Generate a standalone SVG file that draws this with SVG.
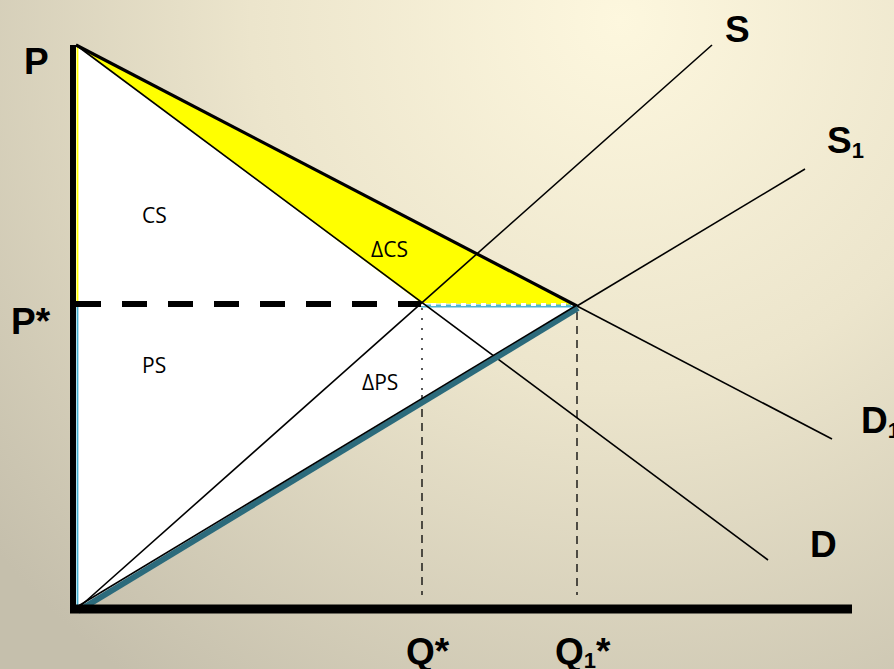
<svg xmlns="http://www.w3.org/2000/svg" width="894" height="669" viewBox="0 0 894 669">
<defs>
<radialGradient id="bg" cx="620" cy="20" r="820" gradientUnits="userSpaceOnUse">
<stop offset="0" stop-color="#fdf7de"/>
<stop offset="0.45" stop-color="#ece5cc"/>
<stop offset="1" stop-color="#c5bfac"/>
</radialGradient>
<style>
.lbl{font-family:"Liberation Sans",Arial,sans-serif;font-weight:bold;font-size:37px;fill:#000}
.sub{font-size:22px}
.area{font-family:"Open Sans","Liberation Sans",sans-serif;font-size:21px;fill:#000}
.curve{fill:none;stroke:#000;stroke-width:1.6}
.guide{fill:none;stroke:#000;stroke-width:1.3;stroke-dasharray:8 6}
</style>
</defs>
<rect width="894" height="669" fill="url(#bg)"/>
<g id="areas">
<polygon id="white-area" points="76,45 421,303 577,306 76,610" fill="#fff"/>
<polygon id="delta-cs-area" points="76,45 577,306 421,303" fill="#ffff00"/>
<line x1="77.5" y1="46" x2="77.5" y2="304" stroke="#ffff00" stroke-width="1.8"/>
<line x1="77.5" y1="306" x2="77.5" y2="608" stroke="#45b0cf" stroke-width="1.8"/>
</g>
<g id="connectors">
<line x1="421" y1="306" x2="577" y2="306" stroke="#4fb3d1" stroke-width="3"/>
<line x1="421" y1="304.5" x2="577" y2="304.5" stroke="#fff" stroke-width="3" stroke-dasharray="5 5"/>
<line x1="76" y1="304" x2="421" y2="304" stroke="#000" stroke-width="6" stroke-dasharray="25 21"/>
<line x1="422" y1="308" x2="422" y2="395" stroke="#000" stroke-width="1.3" stroke-dasharray="2 8"/>
<line x1="422" y1="395" x2="422" y2="595" class="guide"/>
<line x1="577" y1="312" x2="577" y2="595" class="guide"/>
<line id="D" x1="76" y1="45" x2="768" y2="560" class="curve"/>
<line id="D1-upper" x1="76" y1="45" x2="577" y2="306" stroke="#000" stroke-width="3.2"/>
<line id="D1-lower" x1="577" y1="306" x2="832" y2="439" class="curve"/>
<line id="S" x1="76" y1="610" x2="712" y2="45" class="curve"/>
<line id="S1-band" x1="78" y1="611" x2="578" y2="308" stroke="#2c6b7c" stroke-width="6"/>
<line id="S1-edge" x1="75" y1="608" x2="577" y2="305" stroke="#000" stroke-width="1.6"/>
<line id="S1-upper" x1="577" y1="306" x2="805" y2="169" class="curve"/>
<line id="P-axis" x1="73" y1="45" x2="73" y2="612" stroke="#000" stroke-width="6"/>
<line id="Q-axis" x1="70" y1="609" x2="852" y2="609" stroke="#000" stroke-width="9"/>
</g>
<g id="labels">
<text class="lbl" x="24" y="74">P</text>
<text class="lbl" x="11" y="334">P*</text>
<text class="lbl" x="725" y="42">S</text>
<text class="lbl" x="827" y="153">S<tspan class="sub" dy="5">1</tspan></text>
<text class="lbl" x="861" y="433">D<tspan class="sub" dy="5">1</tspan></text>
<text class="lbl" x="810" y="557">D</text>
<text class="lbl" x="406" y="664">Q*</text>
<text class="lbl" x="555" y="664">Q<tspan class="sub" dy="4">1</tspan><tspan dy="-4">*</tspan></text>
<text class="area" x="142" y="223">CS</text>
<text class="area" x="142" y="373">PS</text>
<text class="area" x="371" y="257">ΔCS</text>
<text class="area" x="362" y="390">ΔPS</text>
</g>
</svg>
